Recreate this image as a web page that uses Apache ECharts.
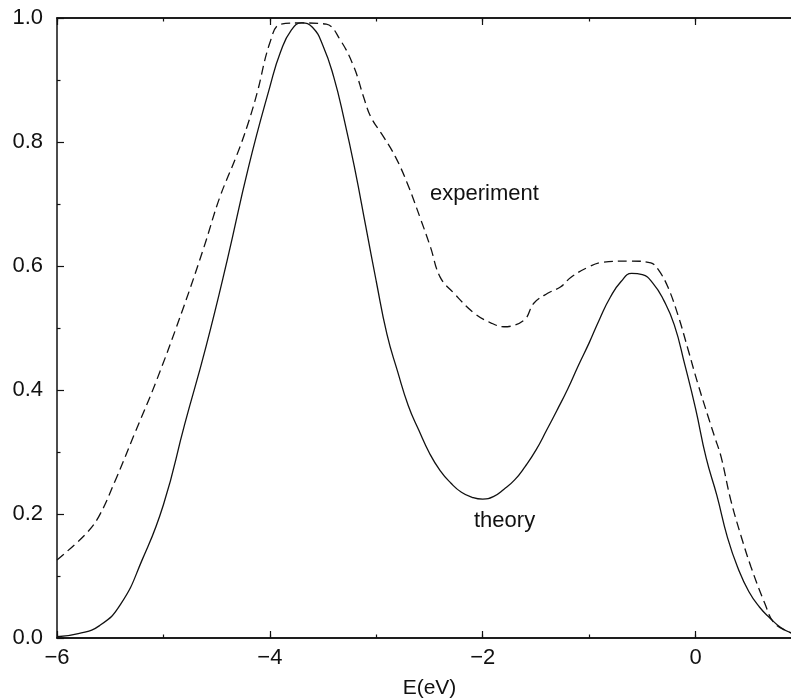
<!DOCTYPE html>
<html lang="en">
<head>
	<meta charset="UTF-8">
	<title>Spectrum</title>
	<style>
		html,body{margin:0;padding:0;background:#fff;}
		#main{width:791px;height:699px;}
	</style>
</head>
<body>
	<div id="main"></div>
	<script src="https://cdn.jsdelivr.net/npm/echarts@6/dist/echarts.min.js"></script>
	<script>
		// theory curve (solid)
		var theoryX = [-6.0, -5.8, -5.6, -5.4, -5.2, -5.0, -4.8, -4.6, -4.4, -4.2, -4.0, -3.9, -3.8, -3.7, -3.6, -3.5, -3.4, -3.3, -3.2, -3.1, -3.0, -2.9, -2.8, -2.7, -2.6, -2.5, -2.4, -2.3, -2.2, -2.1, -2.0, -1.9, -1.8, -1.7, -1.6, -1.5, -1.4, -1.3, -1.2, -1.1, -1.0, -0.9, -0.8, -0.7, -0.6, -0.5, -0.4, -0.3, -0.2, -0.1, 0.0, 0.1, 0.2, 0.3, 0.4, 0.5, 0.6, 0.7, 0.8, 0.9];
		var theoryY = [0.002, 0.007, 0.02, 0.055, 0.126, 0.215, 0.345, 0.47, 0.61, 0.76, 0.889, 0.945, 0.98, 0.992, 0.985, 0.955, 0.905, 0.835, 0.755, 0.665, 0.575, 0.49, 0.43, 0.375, 0.335, 0.298, 0.27, 0.25, 0.235, 0.227, 0.224, 0.228, 0.24, 0.255, 0.277, 0.303, 0.335, 0.368, 0.402, 0.44, 0.476, 0.515, 0.55, 0.575, 0.588, 0.586, 0.572, 0.545, 0.505, 0.44, 0.37, 0.29, 0.23, 0.162, 0.112, 0.075, 0.05, 0.032, 0.017, 0.008];

		// experiment curve (dashed)
		var exptX = [-6.0, -5.74, -5.61, -5.45, -5.27, -5.07, -4.81, -4.62, -4.47, -4.31, -4.21, -4.12, -4.0, -3.90, -3.70, -3.47, -3.34, -3.21, -3.12, -3.05, -2.93, -2.82, -2.71, -2.58, -2.49, -2.40, -2.27, -2.08, -1.92, -1.80, -1.61, -1.52, -1.39, -1.27, -1.17, -1.01, -0.88, -0.61, -0.42, -0.35, -0.26, -0.16, -0.07, 0.02, 0.12, 0.18, 0.24, 0.33, 0.43, 0.52, 0.65, 0.74, 0.9];
		var exptY = [0.126, 0.166, 0.195, 0.255, 0.33, 0.413, 0.534, 0.63, 0.711, 0.779, 0.827, 0.879, 0.96, 0.99, 0.992, 0.99, 0.965, 0.921, 0.873, 0.84, 0.808, 0.776, 0.734, 0.674, 0.63, 0.582, 0.556, 0.524, 0.508, 0.502, 0.513, 0.54, 0.556, 0.566, 0.582, 0.598, 0.606, 0.608, 0.605, 0.594, 0.566, 0.518, 0.465, 0.411, 0.356, 0.324, 0.292, 0.223, 0.163, 0.115, 0.056, 0.024, 0.008];

		var xMin = -6, xMax = 1;
		var font = 'Liberation Sans, Arial, Helvetica, sans-serif';
		var ink = '#111';

		function pairs(xs, ys){
			var out = [];
			for (var i = 0; i < xs.length; i++) out.push([xs[i], ys[i]]);
			return out;
		}

		function fmtX(v){
			if (v < 0) return '\u2212' + Math.abs(v);
			return String(v);
		}

		// one x axis per tick style (major / minor, bottom / top)
		function xAxisDef(pos, step, len, labels){
			return {
				type: 'value', position: pos, min: xMin, max: xMax, interval: step,
				axisLine: {show: true, onZero: false, lineStyle: {color: ink, width: 1.5}},
				axisTick: {show: true, inside: true, length: len, lineStyle: {color: ink, width: 1.2}},
				axisLabel: {show: labels, margin: 9, color: ink, fontSize: 22, fontFamily: font,
					showMaxLabel: false, formatter: fmtX},
				splitLine: {show: false},
				name: labels ? 'E(eV)' : '',
				nameLocation: 'middle', nameGap: 40,
				nameTextStyle: {color: ink, fontSize: 21, fontFamily: font}
			};
		}

		var chart = echarts.init(document.getElementById('main'));
		chart.setOption({
			animation: false,
			backgroundColor: '#fff',
			grid: {left: 57, right: -11, top: 18, bottom: 61, outerBoundsMode: 'none', containLabel: false},
			xAxis: [
				xAxisDef('bottom', 2, 7, true),
				xAxisDef('bottom', 1, 3.5, false),
				xAxisDef('top', 2, 7, false),
				xAxisDef('top', 1, 3.5, false)
			],
			yAxis: {
				type: 'value', min: 0, max: 1, interval: 0.2,
				axisLine: {show: true, onZero: false, lineStyle: {color: ink, width: 1.5}},
				axisTick: {show: true, inside: true, length: 7, lineStyle: {color: ink, width: 1.2}},
				minorTick: {show: true, splitNumber: 2, length: 3.5, lineStyle: {color: ink, width: 1.2}},
				axisLabel: {margin: 14, color: ink, fontSize: 22, fontFamily: font,
					formatter: function(v){ return v.toFixed(1); }},
				splitLine: {show: false}
			},
			graphic: [
				{type: 'text', left: 430, top: 183, style: {text: 'experiment', fill: ink, font: '22px ' + font}},
				{type: 'text', left: 474, top: 510, style: {text: 'theory', fill: ink, font: '22px ' + font}}
			],
			series: [
				{
					name: 'theory', type: 'line', xAxisIndex: 0, showSymbol: false,
					smooth: 0.5,
					lineStyle: {color: ink, width: 1.3},
					data: pairs(theoryX, theoryY)
				},
				{
					name: 'experiment', type: 'line', xAxisIndex: 0, showSymbol: false,
					smooth: 0.4,
					lineStyle: {color: ink, width: 1.3, type: [9, 5]},
					data: pairs(exptX, exptY)
				}
			]
		});
	</script>
</body>
</html>
